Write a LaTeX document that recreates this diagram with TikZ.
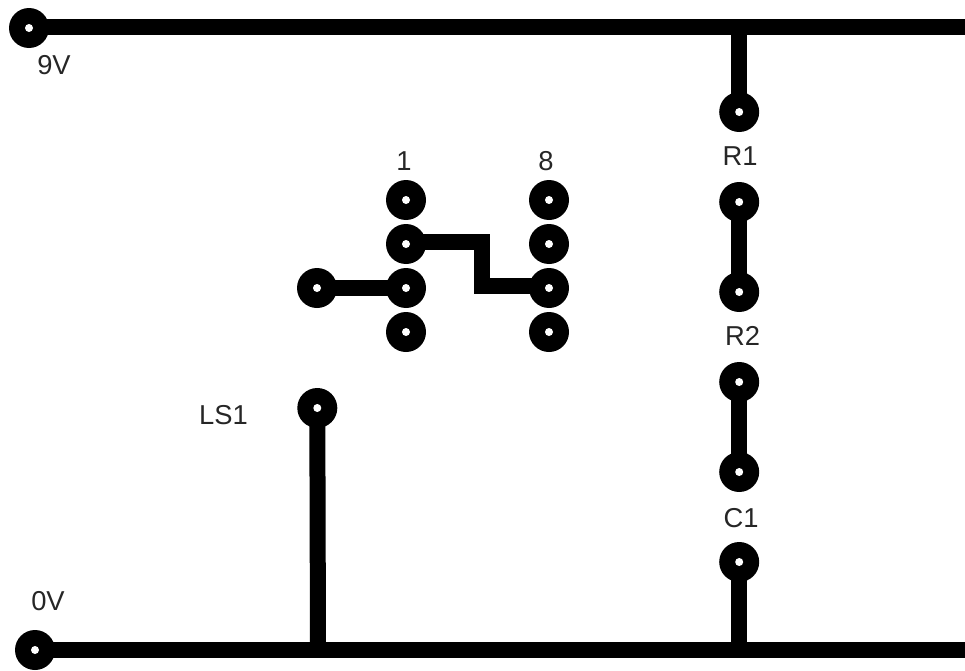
\documentclass[tikz,border=0pt]{standalone}
\usepackage{fontspec}
\setmainfont{Liberation Sans}
\usetikzlibrary{backgrounds}
\tikzset{
    pad/.style={circle, fill=black, inner sep=0pt, minimum size=30pt,
        path picture={\fill[white] (path picture bounding box.center) circle (3pt);}},
    trace/.style={draw=black, line width=12pt, miter limit=10},
    padlabel/.style={text=black!85, inner sep=0pt, font=\fontsize{20.5}{22}\selectfont}
}

\begin{document}
\begin{tikzpicture}[x=0.75pt, y=-0.75pt]
            \useasboundingbox (0, 0) rectangle (965, 671);
            \node[pad] (vcc) at (29, 28) {};
            \node[pad] (gnd) at (35, 650) {};
            \node[pad] (r1a) at (739.2, 112) {};
            \node[pad] (r1b) at (739.2, 202) {};
            \node[pad] (r1c) at (739.2, 292) {};
            \node[pad] (r2a) at (739.2, 382) {};
            \node[pad] (r2b) at (739.2, 472) {};
            \node[pad] (c1a) at (739.2, 562) {};
            \node[pad] (ic1) at (406, 200) {};
            \node[pad] (ic2) at (406, 244) {};
            \node[pad] (ic3) at (406, 288) {};
            \node[pad] (ic4) at (406, 332) {};
            \node[pad] (ic8) at (549, 200) {};
            \node[pad] (ic7) at (549, 244) {};
            \node[pad] (ic6) at (549, 288) {};
            \node[pad] (ic5) at (549, 332) {};
            \node[pad] (out) at (317, 288) {};
            \node[pad] (ls1) at (317.3, 408) {};
            \coordinate (vccend) at (965, 27);
            \coordinate (gndend) at (965, 650);
            \coordinate (lsfoot) at (318, 650);
            \coordinate (linka) at (482, 242);
            \coordinate (linkb) at (482, 286);
            \node[padlabel] at (54, 65) {9V};
            \node[padlabel] at (48, 601) {0V};
            \node[padlabel] at (404, 161) {1};
            \node[padlabel] at (546, 161) {8};
            \node[padlabel] at (740, 156.5) {R1};
            \node[padlabel] at (742.5, 336) {R2};
            \node[padlabel] at (741, 518) {C1};
            \node[padlabel] at (223.5, 415.5) {LS1};
            \begin{scope}[on background layer]
                \draw[trace] (vcc.center |- vccend) -- (vccend);
                \draw[trace] (gnd.center) -- (gndend);
                \draw[trace] (r1a.center) -- (r1a.center |- vccend);
                \draw[trace] (r1b.center) -- (r1c.center);
                \draw[trace] (r2a.center) -- (r2b.center);
                \draw[trace] (c1a.center) -- (c1a.center |- gndend);
                \draw[trace] (ls1.center) -- (lsfoot);
                \draw[trace] (out.center) -- (ic3.center);
                \draw[trace] (ic2.center |- linka) -- (linka) -- (linkb) -- (ic6.center |- linkb);
            \end{scope}
        \end{tikzpicture}
\end{document}
